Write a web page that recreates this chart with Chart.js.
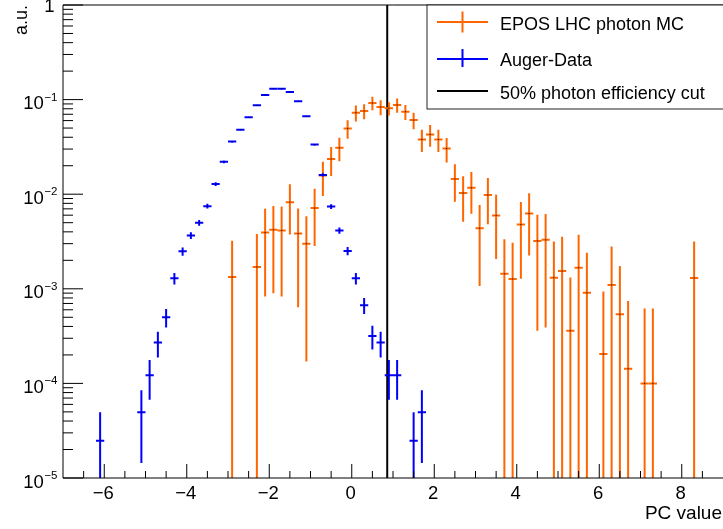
<!DOCTYPE html>
<html>
<head>
<meta charset="utf-8">
<script src="https://cdn.jsdelivr.net/npm/chart.js@4.4.1/dist/chart.umd.min.js"></script>
<style>
    html, body { margin: 0; padding: 0; background: #fff; }
</style>
</head>
<body>
<canvas id="pc_chart" width="723" height="529"></canvas>
<script>
// bin centres (bin width 0.2), normalised entries and their errors
var mcCentres = [-2.9, -2.3, -2.1, -1.9, -1.7, -1.5, -1.3, -1.1, -0.9, -0.7,
    -0.5, -0.3, -0.1, 0.1, 0.3, 0.5, 0.7, 0.9, 1.1, 1.3,
    1.5, 1.7, 1.9, 2.1, 2.3, 2.5, 2.7, 2.9, 3.1, 3.3,
    3.5, 3.7, 3.9, 4.1, 4.3, 4.5, 4.7, 4.9, 5.1, 5.3,
    5.5, 5.7, 6.1, 6.3, 6.5, 6.7, 7.1, 7.3, 8.3];
var mcValues = [1.33e-3, 1.70e-3, 3.93e-3, 4.2e-3, 4.13e-3, 8.24e-3, 3.84e-3, 3.0e-3, 7.13e-3, 1.58e-2,
    2.36e-2, 3.09e-2, 4.96e-2, 7.28e-2, 7.57e-2, 9.2e-2, 8.34e-2, 8.09e-2, 8.77e-2, 7.44e-2,
    6.07e-2, 3.79e-2, 4.28e-2, 3.79e-2, 3.04e-2, 1.45e-2, 1.03e-2, 1.17e-2, 4.37e-3, 9.8e-3,
    5.96e-3, 1.44e-3, 1.27e-3, 4.78e-3, 6.25e-3, 3.21e-3, 3.29e-3, 1.31e-3, 1.54e-3, 3.6e-4,
    1.67e-3, 9.06e-4, 2.04e-4, 1.10e-3, 5.38e-4, 1.43e-4, 1.0e-4, 1.0e-4, 1.30e-3];
var mcErrors = [1.9e-3, 2.1e-3, 3.1e-3, 3.3e-3, 3.3e-3, 4.5e-3, 3.2e-3, 2.83e-3, 4.3e-3, 6.2e-3,
    8.0e-3, 8.6e-3, 1.1e-2, 1.4e-2, 1.37e-2, 1.5e-2, 1.5e-2, 1.3e-2, 1.5e-2, 1.35e-2,
    1.2e-2, 1.0e-2, 1.1e-2, 1.0e-2, 8.8e-3, 6.2e-3, 5.2e-3, 5.5e-3, 3.3e-3, 5.0e-3,
    3.9e-3, 1.9e-3, 1.8e-3, 3.5e-3, 4.0e-3, 2.85e-3, 2.9e-3, 1.85e-3, 2.0e-3, 9.6e-4,
    2.05e-3, 1.5e-3, 7.3e-4, 1.7e-3, 1.2e-3, 6.0e-4, 5.2e-4, 5.2e-4, 1.86e-3];

var dataCentres = [-6.1, -5.1, -4.9, -4.7, -4.5, -4.3, -4.1, -3.9, -3.7, -3.5,
    -3.3, -3.1, -2.9, -2.7, -2.5, -2.3, -2.1, -1.9, -1.7, -1.5,
    -1.3, -1.1, -0.9, -0.7, -0.5, -0.3, -0.1, 0.1, 0.3, 0.5,
    0.7, 0.9, 1.1, 1.5, 1.7];
var dataValues = [2.48e-5, 4.94e-5, 1.22e-4, 2.70e-4, 5.0e-4, 1.29e-3, 2.49e-3, 3.66e-3, 4.98e-3, 7.48e-3,
    1.28e-2, 2.20e-2, 3.60e-2, 4.80e-2, 6.49e-2, 8.7e-2, 0.112, 0.130, 0.130, 0.120,
    0.096, 0.0665, 0.0335, 0.016, 7.4e-3, 4.13e-3, 2.51e-3, 1.29e-3, 6.7e-4, 3.17e-4,
    2.70e-4, 1.22e-4, 1.22e-4, 2.48e-5, 4.94e-5];
var dataErrors = [2.48e-5, 3.5e-5, 5.5e-5, 8.2e-5, 1.1e-4, 1.8e-4, 2.5e-4, 3.0e-4, 3.5e-4, 4.3e-4,
    5.6e-4, 7.4e-4, 9.4e-4, 1.1e-3, 1.3e-3, 1.5e-3, 1.7e-3, 1.8e-3, 1.8e-3, 1.7e-3,
    1.5e-3, 1.3e-3, 9e-4, 6.3e-4, 4.3e-4, 3.2e-4, 2.5e-4, 1.8e-4, 1.3e-4, 8.9e-5,
    8.2e-5, 5.5e-5, 5.5e-5, 2.48e-5, 3.5e-5];

var cutValue = 0.86;
var xTickLabels = [-6, -4, -2, 0, 2, 4, 6, 8];
var yTickPowers = [0, -1, -2, -3, -4, -5];

var ORANGE = '#ff6600';
var BLUE = '#0000ff';
var BIN_HALF = 0.1;
var FONT = '"Liberation Sans", Arial, Helvetica, sans-serif';

function toPoints(xs, ys) {
    return xs.map(function (x, i) { return { x: x, y: ys[i] }; });
}

function minus(v) {
    return v < 0 ? '\u2212' + (-v) : String(v);
}

// ROOT-like crosses: bin width horizontally, error vertically
var errorBars = {
    id: 'errorBars',
    afterDatasetsDraw: function (chart) {
        var ctx = chart.ctx, a = chart.chartArea;
        var xs = chart.scales.x, ys = chart.scales.y;
        ctx.save();
        ctx.beginPath();
        ctx.rect(a.left, a.top, a.right - a.left, a.bottom - a.top);
        ctx.clip();
        chart.data.datasets.forEach(function (ds) {
            if (!ds.errors) return;
            ctx.strokeStyle = ds.borderColor;
            ctx.lineWidth = 2;
            ds.data.forEach(function (pt, i) {
                var e = ds.errors[i];
                var px = xs.getPixelForValue(pt.x), py = ys.getPixelForValue(pt.y);
                var top = ys.getPixelForValue(pt.y + e);
                var bottom = pt.y - e > 0 ? Math.min(ys.getPixelForValue(pt.y - e), a.bottom) : a.bottom;
                ctx.beginPath();
                ctx.moveTo(xs.getPixelForValue(pt.x - BIN_HALF), py);
                ctx.lineTo(xs.getPixelForValue(pt.x + BIN_HALF), py);
                ctx.moveTo(px, top);
                ctx.lineTo(px, bottom);
                ctx.stroke();
                ctx.fillStyle = '#000';
                ctx.fillRect(px - 0.5, py - 0.5, 1, 1);
            });
        });
        ctx.restore();
    }
};

// frame, inward ticks, labels and the legend box
var rootAxes = {
    id: 'rootAxes',
    afterDraw: function (chart) {
        var ctx = chart.ctx, a = chart.chartArea;
        var xs = chart.scales.x, ys = chart.scales.y;
        var i, v, p, m, px, py;
        ctx.save();
        ctx.strokeStyle = '#000';
        ctx.lineWidth = 1;
        ctx.beginPath();
        ctx.moveTo(a.right + 2, a.top);
        ctx.lineTo(a.left, a.top);
        ctx.lineTo(a.left, a.bottom);
        ctx.lineTo(a.right + 2, a.bottom);
        ctx.stroke();

        ctx.beginPath();
        for (i = -13; i <= 17; i++) {
            v = i / 2;
            px = xs.getPixelForValue(v);
            ctx.moveTo(px, a.bottom);
            ctx.lineTo(px, a.bottom - (i % 4 === 0 ? 14 : 7));
        }
        for (p = -5; p <= 0; p++) {
            py = ys.getPixelForValue(Math.pow(10, p));
            ctx.moveTo(a.left, py);
            ctx.lineTo(a.left + 20, py);
            if (p === 0) continue;
            for (m = 2; m <= 9; m++) {
                py = ys.getPixelForValue(m * Math.pow(10, p));
                ctx.moveTo(a.left, py);
                ctx.lineTo(a.left + 10, py);
            }
        }
        ctx.stroke();

        ctx.fillStyle = '#000';
        ctx.textAlign = 'center';
        ctx.textBaseline = 'alphabetic';
        ctx.font = '18.5px ' + FONT;
        xTickLabels.forEach(function (t) {
            ctx.fillText(minus(t), xs.getPixelForValue(t) - 1, 498.5);
        });

        ctx.textAlign = 'right';
        yTickPowers.forEach(function (k) {
            var y = ys.getPixelForValue(Math.pow(10, k));
            if (k === 0) {
                ctx.font = '18.5px ' + FONT;
                ctx.fillText('1', 54.5, y + 6.5);
                return;
            }
            var sup = minus(k);
            ctx.font = '11.5px ' + FONT;
            ctx.fillText(sup, 57.5, y + 1);
            var w = ctx.measureText(sup).width;
            ctx.font = '18.5px ' + FONT;
            ctx.fillText('10', 57 - w, y + 9.5);
        });

        ctx.font = '19px ' + FONT;
        ctx.fillText('PC value', 722, 518.5);

        ctx.save();
        ctx.translate(26.5, 5);
        ctx.rotate(-Math.PI / 2);
        ctx.font = '18px ' + FONT;
        ctx.fillText('a.u.', 0, 0);
        ctx.restore();

        // legend
        ctx.fillStyle = '#fff';
        ctx.fillRect(427, 5, 300, 104);
        ctx.strokeStyle = '#222';
        ctx.lineWidth = 1;
        ctx.strokeRect(427, 5, 300, 104);

        ctx.lineWidth = 2;
        ctx.strokeStyle = ORANGE;
        ctx.beginPath();
        ctx.moveTo(437, 22); ctx.lineTo(488, 22);
        ctx.moveTo(462.5, 11.5); ctx.lineTo(462.5, 32.5);
        ctx.stroke();
        ctx.strokeStyle = BLUE;
        ctx.beginPath();
        ctx.moveTo(437, 59); ctx.lineTo(488, 59);
        ctx.moveTo(462.5, 49); ctx.lineTo(462.5, 67);
        ctx.stroke();
        ctx.strokeStyle = '#000';
        ctx.beginPath();
        ctx.moveTo(437, 91); ctx.lineTo(488, 91);
        ctx.stroke();

        ctx.fillStyle = '#000';
        ctx.textAlign = 'left';
        ctx.font = '18px ' + FONT;
        ctx.fillText(chart.data.datasets[0].label, 500, 29.5);
        ctx.fillText(chart.data.datasets[1].label, 500, 65.5);
        ctx.fillText(chart.data.datasets[2].label, 500, 99);
        ctx.restore();
    }
};

new Chart(document.getElementById('pc_chart').getContext('2d'), {
    type: 'scatter',
    data: {
        datasets: [{
            label: 'EPOS LHC photon MC',
            data: toPoints(mcCentres, mcValues),
            errors: mcErrors,
            borderColor: ORANGE,
            backgroundColor: ORANGE,
            pointRadius: 0
        }, {
            label: 'Auger-Data',
            data: toPoints(dataCentres, dataValues),
            errors: dataErrors,
            borderColor: BLUE,
            backgroundColor: BLUE,
            pointRadius: 0
        }, {
            label: '50% photon efficiency cut',
            data: [{ x: cutValue, y: 1e-5 }, { x: cutValue, y: 1 }],
            showLine: true,
            borderColor: '#000',
            borderWidth: 2,
            pointRadius: 0
        }]
    },
    options: {
        responsive: false,
        animation: false,
        layout: { padding: { left: 63, top: 5, right: 0, bottom: 51 } },
        plugins: {
            legend: { display: false },
            tooltip: { enabled: false }
        },
        scales: {
            x: { type: 'linear', min: -7, max: 9, display: false },
            y: { type: 'logarithmic', min: 1e-5, max: 1, display: false }
        }
    },
    plugins: [errorBars, rootAxes]
});
</script>
</body>
</html>
